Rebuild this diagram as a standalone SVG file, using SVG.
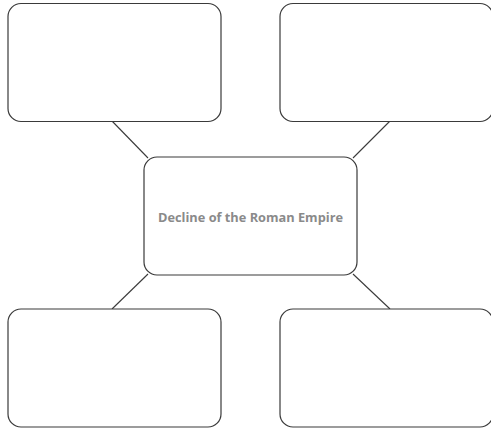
<svg xmlns="http://www.w3.org/2000/svg" width="491" height="429" viewBox="0 0 491 429">
<style>
.box{fill:#fff;stroke:#3a3a3a;stroke-width:1.2}
.conn{stroke:#3a3a3a;stroke-width:1.1;fill:none}
.lbl{font-family:"Open Sans","Liberation Sans",sans-serif;font-weight:bold;font-size:13px;fill:#8a8a8a}
</style>
<rect width="491" height="429" fill="#fff"/>
<g id="connectors">
<line class="conn" x1="112" y1="121" x2="148" y2="158"/>
<line class="conn" x1="390" y1="121" x2="353" y2="158"/>
<line class="conn" x1="148" y1="274" x2="112" y2="309"/>
<line class="conn" x1="353" y1="274" x2="390" y2="309"/>
</g>
<g id="box-top-left"><rect class="box" x="8" y="3.5" width="213" height="118" rx="13"/></g>
<g id="box-top-right"><rect class="box" x="280" y="3.5" width="213" height="118" rx="13"/></g>
<g id="box-center"><rect class="box" x="144" y="157" width="213" height="118" rx="13"/>
<text class="lbl" x="250.5" y="221.5" text-anchor="middle" textLength="185" lengthAdjust="spacingAndGlyphs">Decline of the Roman Empire</text></g>
<g id="box-bottom-left"><rect class="box" x="8" y="309" width="213" height="118" rx="13"/></g>
<g id="box-bottom-right"><rect class="box" x="280" y="309" width="213" height="118" rx="13"/></g>
</svg>
